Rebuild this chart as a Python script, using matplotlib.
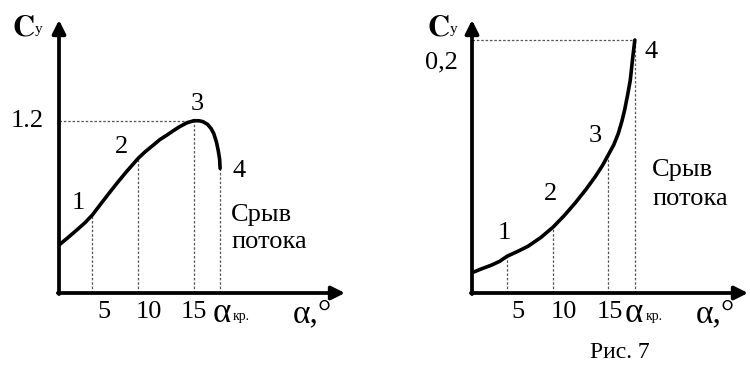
"""
two sketches of lift coefficient Cy against angle of attack
"""

import matplotlib.pyplot as plt

plt.rcParams['font.family'] = ['Liberation Serif', 'DejaVu Serif']
plt.rcParams['mathtext.fontset'] = 'stix'

# left sketch: curve rises, peaks at 1.2 and breaks down
left_alpha = [0, 1.0, 2.0, 2.9, 3.7, 4.7, 5.7, 6.6, 7.5, 8.8, 9.6, 10.5, 11.2,
              12.0, 12.7, 13.4, 14.2, 15.0, 15.6, 16.0, 16.5, 16.9, 17.2,
              17.5, 17.7, 17.85, 17.9]
left_cy = [0.334, 0.386, 0.44, 0.49, 0.543, 0.625, 0.706, 0.777, 0.845, 0.938,
           0.985, 1.031, 1.068, 1.10, 1.13, 1.158, 1.185, 1.2, 1.199, 1.193,
           1.175, 1.145, 1.11, 1.05, 0.99, 0.93, 0.868]
left_pt_alpha = [3.7, 8.8, 15.0, 17.9]
left_pt_cy = [0.543, 0.938, 1.2, 0.868]

# right sketch: curve grows up to 0,2
right_alpha = [0, 1.0, 2.1, 3.0, 3.8, 5.0, 6.1, 7.5, 8.8, 10.0, 11.2, 12.4,
               13.4, 14.2, 14.8, 15.4, 15.9, 16.3, 16.6, 16.9, 17.2, 17.35,
               17.5, 17.7]
right_cy = [0.016, 0.019, 0.022, 0.025, 0.029, 0.033, 0.037, 0.044, 0.052,
            0.061, 0.071, 0.082, 0.092, 0.101, 0.109, 0.117, 0.126, 0.136,
            0.145, 0.156, 0.168, 0.178, 0.188, 0.2]
right_pt_alpha = [3.8, 8.8, 14.8, 17.7]
right_pt_cy = [0.029, 0.052, 0.109, 0.2]

x_ticks = [5, 10, 15]
x_tick_labels = ['5', '10', '15']
pt_labels = ['1', '2', '3', '4']

fs = 19
W, H = 750, 365
fig = plt.figure(figsize=(W / 100, H / 100), dpi=100)


def px(x, y):
    return x / W, 1 - y / H


def panel(rect, alpha, cy, pt_alpha, pt_cy, xmax, ymax, offs, alpha_x, kr_off):
    ax = fig.add_axes(rect)
    ax.set_xlim(0, xmax)
    ax.set_ylim(0, ymax)
    for s in ax.spines.values():
        s.set_visible(False)
    ax.patch.set_alpha(0)

    # axes with arrow heads
    arr = dict(arrowstyle='-|>', lw=2.7, color='k', mutation_scale=20,
               shrinkA=0, shrinkB=0)
    ax.annotate('', xy=(1, 0), xytext=(-0.004, 0), xycoords='axes fraction',
                arrowprops=arr)
    ax.annotate('', xy=(0, 1), xytext=(0, -0.004), xycoords='axes fraction',
                arrowprops=arr)

    # dotted guide lines
    top = pt_cy.index(max(pt_cy))
    ax.plot([0, pt_alpha[top]], [pt_cy[top], pt_cy[top]], color='#555555',
            lw=0.9, ls=(0, (2, 1.5)))
    for a, c in zip(pt_alpha, pt_cy):
        ax.plot([a, a], [0, c], color='#555555', lw=0.9, ls=(0, (2, 1.5)))

    ax.plot(alpha, cy, color='k', lw=2.6, solid_capstyle='round',
            solid_joinstyle='round')

    for lab, a, c, o in zip(pt_labels, pt_alpha, pt_cy, offs):
        ax.annotate(lab, (a, c), xytext=o, textcoords='offset points',
                    ha='center', va='center', fontsize=fs)

    ax.set_xticks(x_ticks)
    ax.set_xticklabels(x_tick_labels, fontsize=fs)
    ax.set_yticks([])
    ax.tick_params(axis='x', length=0, pad=6)

    ax.annotate('α', (pt_alpha[-1], 0), xytext=(alpha_x, -15),
                textcoords='offset points', ha='center', va='center',
                fontsize=25)
    ax.annotate('кр.', (pt_alpha[-1], 0), xytext=kr_off,
                textcoords='offset points', ha='left', va='center',
                fontsize=10)
    return ax


axl = panel([59 / W, 72 / H, 286 / W, 273 / H], left_alpha, left_cy,
            left_pt_alpha, left_pt_cy, 286 / 9.0, 273 / 143.6,
            [(-10, 9), (-12, 8), (2, 12), (14, -2)], 1, (9, -17))
axr = panel([472 / W, 72 / H, 276 / W, 273 / H], right_alpha, right_cy,
            right_pt_alpha, right_pt_cy, 276 / 9.2, 273 / 1265,
            [(-2, 17), (-2, 24), (-9, 14), (12, -9)], -1, (8, -17))

# y tick values, written next to the axis
axl.annotate('1.2', (0, max(left_pt_cy)), xytext=(-11, 0),
             textcoords='offset points', ha='right', va='center', fontsize=fs)
axr.annotate('0,2', (0, max(right_pt_cy)), xytext=(-10, -16),
             textcoords='offset points', ha='right', va='center', fontsize=fs)

for x0 in (0, 415):
    fig.text(*px(x0 + 12, 28), r'$\mathbf{C}$', fontsize=22,
             ha='left', va='center')
    fig.text(*px(x0 + 35, 30), 'y', fontsize=11, ha='left', va='center')

fig.text(*px(231, 215), 'Срыв', fontsize=fs, ha='left', va='center')
fig.text(*px(231, 242), 'потока', fontsize=fs, ha='left', va='center')
fig.text(*px(652, 170), 'Срыв', fontsize=fs, ha='left', va='center')
fig.text(*px(652, 199), 'потока', fontsize=fs, ha='left', va='center')

fig.text(*px(312, 314), 'α,°', fontsize=24, ha='center', va='center')
fig.text(*px(715, 314), 'α,°', fontsize=24, ha='center', va='center')
fig.text(*px(620, 353), 'Рис. 7', fontsize=17, ha='center', va='center')

plt.savefig('out.png', dpi=100)
